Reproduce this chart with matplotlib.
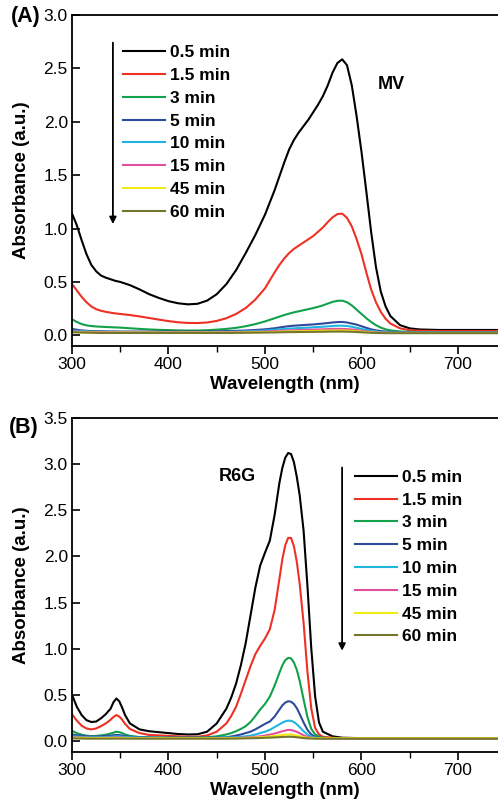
import matplotlib
matplotlib.use("Agg")
import matplotlib.pyplot as plt
from matplotlib.ticker import MultipleLocator, FormatStrFormatter

plt.rcParams['font.family'] = ['Liberation Sans', 'DejaVu Sans']

labels = ['0.5 min', '1.5 min', '3 min', '5 min', '10 min', '15 min', '45 min', '60 min']
colors = ['#000000', '#ee3124', '#12a14b', '#2e4b9b', '#20b5e0', '#e0509e', '#f2ea10', '#75752e']

# (A) MV spectra
wl_a = [300, 305, 310, 315, 320, 325, 330, 335, 340, 345,
        350, 360, 370, 380, 390, 400, 410, 420, 430, 440,
        450, 460, 470, 480, 490, 500, 510, 515, 520, 525,
        530, 535, 540, 545, 550, 555, 560, 565, 570, 575,
        580, 585, 590, 595, 600, 605, 610, 615, 620, 625,
        630, 640, 650, 660, 680, 700, 720, 745]
mv_05 = [1.14, 1.03, 0.89, 0.76, 0.66, 0.60, 0.56, 0.54, 0.525, 0.51,
         0.50, 0.47, 0.43, 0.385, 0.35, 0.32, 0.30, 0.29, 0.295, 0.325,
         0.385, 0.48, 0.61, 0.77, 0.94, 1.13, 1.36, 1.49, 1.62, 1.74,
         1.83, 1.90, 1.96, 2.02, 2.09, 2.16, 2.24, 2.34, 2.46, 2.55,
         2.585, 2.53, 2.34, 2.05, 1.72, 1.35, 0.97, 0.64, 0.41, 0.27,
         0.18, 0.095, 0.065, 0.055, 0.05, 0.05, 0.05, 0.05]
mv_15 = [0.48, 0.42, 0.36, 0.31, 0.27, 0.245, 0.23, 0.22, 0.212, 0.205,
         0.20, 0.19, 0.177, 0.162, 0.147, 0.133, 0.122, 0.116, 0.115, 0.12,
         0.135, 0.16, 0.20, 0.255, 0.335, 0.44, 0.59, 0.66, 0.72, 0.77,
         0.81, 0.84, 0.87, 0.90, 0.93, 0.97, 1.01, 1.06, 1.105, 1.135,
         1.14, 1.10, 1.02, 0.90, 0.76, 0.59, 0.43, 0.31, 0.22, 0.155,
         0.11, 0.065, 0.048, 0.043, 0.04, 0.04, 0.04, 0.04]
mv_3 = [0.15, 0.125, 0.105, 0.093, 0.087, 0.083, 0.08, 0.078, 0.076, 0.074,
        0.072, 0.066, 0.06, 0.055, 0.051, 0.049, 0.046, 0.045, 0.045, 0.048,
        0.053, 0.06, 0.07, 0.085, 0.105, 0.13, 0.16, 0.175, 0.19, 0.203,
        0.215, 0.225, 0.235, 0.245, 0.255, 0.267, 0.28, 0.297, 0.313, 0.323,
        0.325, 0.31, 0.28, 0.24, 0.20, 0.16, 0.125, 0.095, 0.072, 0.056,
        0.046, 0.036, 0.032, 0.03, 0.03, 0.03, 0.03, 0.03]
mv_5 = [0.06, 0.052, 0.046, 0.042, 0.04, 0.039, 0.038, 0.037, 0.036, 0.036,
        0.035, 0.035, 0.035, 0.035, 0.035, 0.035, 0.035, 0.035, 0.035, 0.035,
        0.037, 0.04, 0.042, 0.045, 0.05, 0.056, 0.066, 0.073, 0.08, 0.086,
        0.09, 0.093, 0.096, 0.099, 0.102, 0.106, 0.11, 0.115, 0.12, 0.124,
        0.125, 0.12, 0.11, 0.10, 0.085, 0.07, 0.056, 0.046, 0.04, 0.035,
        0.031, 0.028, 0.025, 0.025, 0.025, 0.025, 0.025, 0.025]
mv_10 = [0.045, 0.042, 0.039, 0.037, 0.035, 0.034, 0.033, 0.032, 0.031, 0.031,
         0.03, 0.03, 0.03, 0.03, 0.03, 0.03, 0.03, 0.03, 0.03, 0.03,
         0.03, 0.032, 0.034, 0.037, 0.04, 0.045, 0.052, 0.056, 0.06, 0.063,
         0.065, 0.068, 0.07, 0.072, 0.075, 0.078, 0.08, 0.084, 0.087, 0.09,
         0.09, 0.087, 0.08, 0.07, 0.06, 0.05, 0.042, 0.036, 0.031, 0.028,
         0.026, 0.025, 0.025, 0.025, 0.025, 0.025, 0.025, 0.025]
mv_15m = [0.035, 0.034, 0.033, 0.032, 0.031, 0.03, 0.03, 0.029, 0.028, 0.028,
          0.028, 0.028, 0.028, 0.028, 0.028, 0.028, 0.028, 0.028, 0.028, 0.028,
          0.028, 0.029, 0.03, 0.031, 0.033, 0.036, 0.04, 0.042, 0.044, 0.046,
          0.047, 0.049, 0.05, 0.052, 0.053, 0.055, 0.056, 0.058, 0.06, 0.06,
          0.06, 0.058, 0.055, 0.05, 0.043, 0.037, 0.032, 0.028, 0.025, 0.024,
          0.023, 0.023, 0.023, 0.023, 0.023, 0.023, 0.023, 0.023]
mv_45 = [0.03, 0.029, 0.028, 0.027, 0.026, 0.026, 0.025, 0.025, 0.025, 0.025,
         0.025, 0.025, 0.025, 0.025, 0.025, 0.025, 0.025, 0.025, 0.025, 0.025,
         0.025, 0.025, 0.026, 0.027, 0.028, 0.03, 0.032, 0.034, 0.035, 0.036,
         0.037, 0.038, 0.039, 0.04, 0.041, 0.042, 0.043, 0.044, 0.045, 0.045,
         0.045, 0.044, 0.042, 0.038, 0.034, 0.03, 0.027, 0.025, 0.023, 0.022,
         0.022, 0.022, 0.022, 0.022, 0.022, 0.022, 0.022, 0.022]
mv_60 = [0.03, 0.028, 0.026, 0.025, 0.024, 0.023, 0.022, 0.022, 0.022, 0.022,
         0.022, 0.022, 0.022, 0.022, 0.022, 0.022, 0.022, 0.022, 0.022, 0.022,
         0.022, 0.022, 0.023, 0.024, 0.025, 0.026, 0.027, 0.028, 0.029, 0.03,
         0.03, 0.031, 0.031, 0.032, 0.032, 0.033, 0.033, 0.034, 0.035, 0.035,
         0.035, 0.034, 0.033, 0.031, 0.028, 0.026, 0.024, 0.022, 0.021, 0.02,
         0.02, 0.02, 0.02, 0.02, 0.02, 0.02, 0.02, 0.02]

# (B) R6G spectra
wl_b = [300, 305, 310, 315, 320, 325, 330, 335, 340, 343, 346, 349, 352, 355,
        360, 370, 380, 390, 400, 410, 420, 430, 440, 450,
        460, 465, 470, 475, 480, 485, 490, 495, 500, 505,
        510, 515, 518, 521, 524, 527, 530, 533, 536, 540,
        544, 548, 552, 556, 560, 570, 580, 600, 650, 700, 745]
r6g_05 = [0.50, 0.37, 0.28, 0.225, 0.205, 0.21, 0.245, 0.29, 0.35, 0.42, 0.46, 0.43, 0.36, 0.28,
          0.19, 0.125, 0.105, 0.095, 0.085, 0.075, 0.07, 0.072, 0.10, 0.19,
          0.35, 0.47, 0.62, 0.82, 1.06, 1.36, 1.66, 1.90, 2.04, 2.17,
          2.45, 2.80, 2.96, 3.07, 3.12, 3.11, 3.02, 2.86, 2.66, 2.28,
          1.68, 1.00, 0.48, 0.20, 0.10, 0.05, 0.035, 0.03, 0.03, 0.03, 0.03]
r6g_15 = [0.29, 0.22, 0.165, 0.135, 0.125, 0.135, 0.16, 0.19, 0.23, 0.26, 0.28, 0.265, 0.23, 0.185,
          0.13, 0.085, 0.065, 0.06, 0.055, 0.05, 0.045, 0.045, 0.06, 0.10,
          0.19, 0.27, 0.37, 0.51, 0.66, 0.81, 0.94, 1.03, 1.11, 1.21,
          1.42, 1.76, 1.97, 2.12, 2.20, 2.20, 2.11, 1.94, 1.70, 1.28,
          0.75, 0.35, 0.14, 0.07, 0.045, 0.035, 0.03, 0.03, 0.03, 0.03, 0.03]
r6g_3 = [0.11, 0.085, 0.068, 0.057, 0.052, 0.054, 0.06, 0.068, 0.08, 0.09, 0.10, 0.095, 0.085, 0.07,
         0.055, 0.042, 0.038, 0.036, 0.035, 0.035, 0.035, 0.035, 0.04, 0.05,
         0.07, 0.085, 0.105, 0.13, 0.16, 0.205, 0.27, 0.34, 0.40, 0.48,
         0.60, 0.74, 0.82, 0.875, 0.90, 0.895, 0.85, 0.77, 0.65, 0.45,
         0.26, 0.13, 0.07, 0.045, 0.035, 0.03, 0.03, 0.03, 0.03, 0.03, 0.03]
r6g_5 = [0.07, 0.062, 0.056, 0.05, 0.047, 0.047, 0.05, 0.054, 0.058, 0.062, 0.065, 0.063, 0.058, 0.052,
         0.046, 0.04, 0.037, 0.035, 0.035, 0.035, 0.035, 0.035, 0.035, 0.037,
         0.04, 0.048, 0.058, 0.07, 0.085, 0.10, 0.125, 0.155, 0.185, 0.21,
         0.265, 0.34, 0.385, 0.415, 0.43, 0.425, 0.40, 0.355, 0.29, 0.20,
         0.12, 0.07, 0.045, 0.035, 0.03, 0.03, 0.03, 0.03, 0.03, 0.03, 0.03]
r6g_10 = [0.05, 0.047, 0.044, 0.042, 0.04, 0.04, 0.041, 0.043, 0.045, 0.048, 0.05, 0.049, 0.046, 0.043,
          0.04, 0.036, 0.034, 0.033, 0.033, 0.033, 0.033, 0.033, 0.033, 0.034,
          0.036, 0.038, 0.04, 0.045, 0.05, 0.058, 0.07, 0.085, 0.10, 0.12,
          0.15, 0.18, 0.198, 0.212, 0.22, 0.218, 0.205, 0.18, 0.15, 0.105,
          0.07, 0.048, 0.037, 0.032, 0.03, 0.03, 0.03, 0.03, 0.03, 0.03, 0.03]
r6g_15m = [0.04, 0.038, 0.036, 0.035, 0.034, 0.034, 0.034, 0.035, 0.036, 0.037, 0.038, 0.037, 0.036, 0.034,
           0.032, 0.03, 0.03, 0.03, 0.03, 0.03, 0.03, 0.03, 0.03, 0.03,
           0.031, 0.032, 0.033, 0.035, 0.037, 0.04, 0.045, 0.05, 0.058, 0.068,
           0.08, 0.095, 0.105, 0.113, 0.12, 0.118, 0.11, 0.098, 0.083, 0.06,
           0.045, 0.035, 0.03, 0.028, 0.028, 0.028, 0.028, 0.028, 0.028, 0.028, 0.028]
r6g_45 = [0.035, 0.034, 0.033, 0.032, 0.031, 0.031, 0.031, 0.031, 0.032, 0.032, 0.033, 0.032, 0.032, 0.031,
          0.03, 0.03, 0.03, 0.03, 0.03, 0.03, 0.03, 0.03, 0.03, 0.03,
          0.03, 0.031, 0.031, 0.032, 0.033, 0.035, 0.037, 0.04, 0.044, 0.048,
          0.054, 0.06, 0.064, 0.068, 0.07, 0.069, 0.065, 0.058, 0.05, 0.04,
          0.034, 0.031, 0.03, 0.03, 0.03, 0.03, 0.03, 0.03, 0.03, 0.03, 0.03]
r6g_60 = [0.028, 0.027, 0.026, 0.025, 0.025, 0.025, 0.025, 0.025, 0.025, 0.025, 0.025, 0.025, 0.025, 0.025,
          0.025, 0.025, 0.025, 0.025, 0.025, 0.025, 0.025, 0.025, 0.025, 0.025,
          0.025, 0.026, 0.026, 0.027, 0.028, 0.029, 0.03, 0.032, 0.034, 0.036,
          0.038, 0.041, 0.043, 0.044, 0.045, 0.045, 0.043, 0.04, 0.036, 0.031,
          0.028, 0.026, 0.025, 0.025, 0.025, 0.025, 0.025, 0.025, 0.025, 0.025, 0.025]

mv_series = [mv_05, mv_15, mv_3, mv_5, mv_10, mv_15m, mv_45, mv_60]
r6g_series = [r6g_05, r6g_15, r6g_3, r6g_5, r6g_10, r6g_15m, r6g_45, r6g_60]

fig = plt.figure(figsize=(4.98, 8.08), dpi=100)
ax_a = fig.add_axes([0.1446, 0.5718, 0.8554, 0.4096])
ax_b = fig.add_axes([0.1446, 0.0693, 0.8554, 0.4134])


def style_axes(ax, ymax, ymin):
    ax.set_xlim(300, 741.5)
    ax.set_ylim(ymin, ymax)
    ax.spines['right'].set_visible(False)
    for s in ['top', 'left', 'bottom']:
        ax.spines[s].set_linewidth(1.3)
    ax.xaxis.set_major_locator(MultipleLocator(100))
    ax.xaxis.set_minor_locator(MultipleLocator(50))
    ax.yaxis.set_major_locator(MultipleLocator(0.5))
    ax.yaxis.set_major_formatter(FormatStrFormatter('%.1f'))
    ax.tick_params(axis='x', which='major', direction='out', length=6, width=1.2, labelsize=12.5, pad=2)
    ax.tick_params(axis='x', which='minor', direction='out', length=4, width=1.0)
    ax.tick_params(axis='y', which='major', direction='in', length=6, width=1.2, labelsize=12.5, pad=3)
    ax.set_xlabel('Wavelength (nm)', fontsize=13.5, fontweight='bold', labelpad=3)
    ax.set_ylabel('Absorbance (a.u.)', fontsize=13.5, fontweight='bold', labelpad=10)


for vals, c, lab in zip(mv_series, colors, labels):
    ax_a.plot(wl_a, vals, color=c, lw=1.5, label=lab)
for vals, c, lab in zip(r6g_series, colors, labels):
    ax_b.plot(wl_b, vals, color=c, lw=1.5, label=lab)

style_axes(ax_a, 3.0, -0.10)
style_axes(ax_b, 3.5, -0.12)

leg_kw = dict(frameon=False, loc='upper left', handlelength=2.4, handletextpad=0.3,
              labelspacing=0.44, borderpad=0, borderaxespad=0,
              prop={'weight': 'bold', 'size': 12.5})
ax_a.legend(bbox_to_anchor=(0.12, 0.909), **leg_kw)
ax_b.legend(bbox_to_anchor=(0.664, 0.845), **leg_kw)

arrow = dict(arrowstyle='-|>', color='black', lw=1.3, mutation_scale=10)
ax_a.annotate('', xy=(0.096, 0.36), xytext=(0.096, 0.925), xycoords='axes fraction', arrowprops=arrow)
ax_b.annotate('', xy=(0.634, 0.295), xytext=(0.634, 0.86), xycoords='axes fraction', arrowprops=arrow)

ax_a.text(0.749, 0.79, 'MV', transform=ax_a.transAxes, fontsize=13, fontweight='bold', ha='center', va='center')
ax_b.text(0.387, 0.826, 'R6G', transform=ax_b.transAxes, fontsize=13, fontweight='bold', ha='center', va='center')

fig.text(0.022, 0.979, '(A)', fontsize=15.5, fontweight='bold', ha='left', va='center')
fig.text(0.018, 0.4715, '(B)', fontsize=15.5, fontweight='bold', ha='left', va='center')

fig.savefig('out.png', dpi=100)
